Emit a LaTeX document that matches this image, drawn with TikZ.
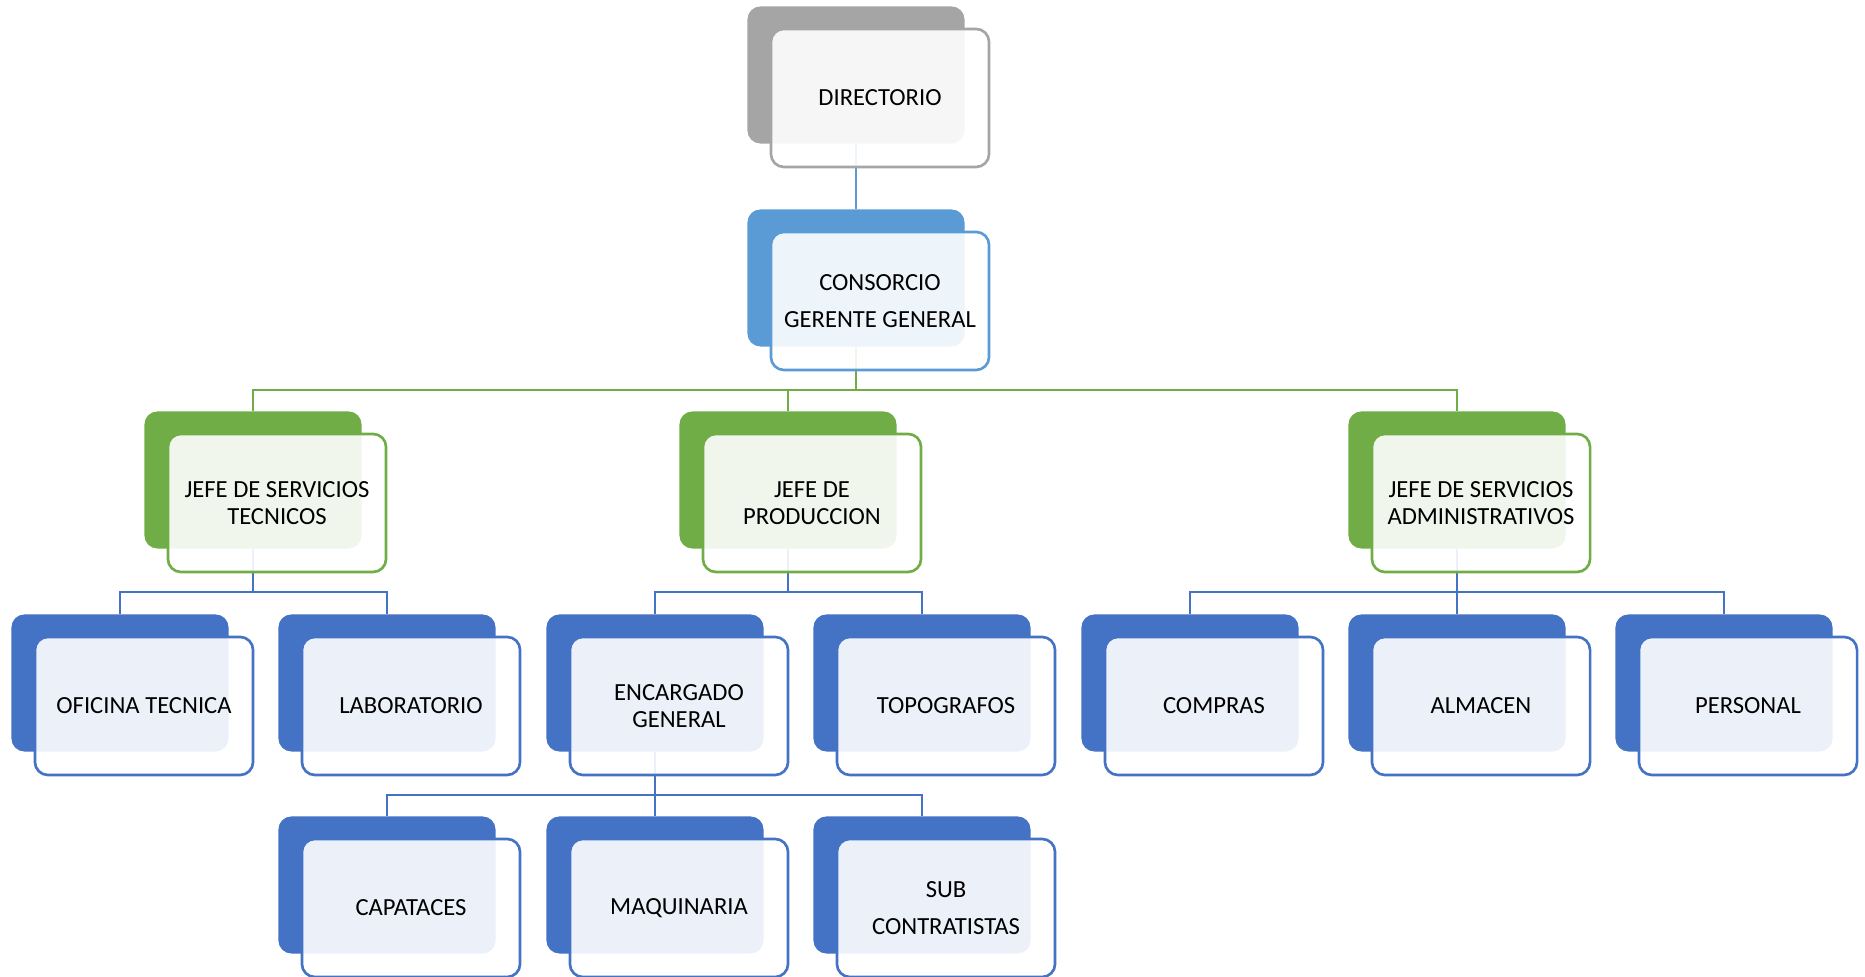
\documentclass[tikz,border=0pt]{standalone}
\usepackage{fontspec}
\setmainfont{Carlito}
\usepackage{tikz}
\definecolor{gris}{HTML}{A5A5A5}
\definecolor{celeste}{HTML}{5B9BD5}
\definecolor{verde}{HTML}{70AD47}
\definecolor{azul}{HTML}{4472C4}

\begin{document}
\begin{tikzpicture}[x=0.01cm,y=-0.01cm,font=\fontsize{7}{7.7}\selectfont,
  caja/.style={rounded corners=3.7pt,minimum width=2.17cm,minimum height=1.37cm,inner sep=0pt},
  frente/.style={rounded corners=3.7pt,minimum width=2.18cm,minimum height=1.38cm,inner sep=0pt,line width=0.75pt,fill=white,fill opacity=0.9,text opacity=1,align=center},
  linea/.style={line width=0.6pt}]
\useasboundingbox (0,0) rectangle (1865,977);
% fondo
\node[caja,fill=gris] (dir) at (856,75) {};
\node[caja,fill=celeste] (ger) at (856,278) {};
\node[caja,fill=verde] (jst) at (253,480) {};
\node[caja,fill=verde] (jpr) at (788,480) {};
\node[caja,fill=verde] (jsa) at (1457,480) {};
\node[caja,fill=azul] (ofi) at (120,683) {};
\node[caja,fill=azul] (lab) at (387,683) {};
\node[caja,fill=azul] (enc) at (655,683) {};
\node[caja,fill=azul] (top) at (922,683) {};
\node[caja,fill=azul] (com) at (1190,683) {};
\node[caja,fill=azul] (alm) at (1457,683) {};
\node[caja,fill=azul] (per) at (1724,683) {};
\node[caja,fill=azul] (cap) at (387,885) {};
\node[caja,fill=azul] (maq) at (655,885) {};
\node[caja,fill=azul] (sub) at (922,885) {};
% lineas
\draw[linea,celeste] (dir.south) -- (ger.north);
\draw[linea,verde] (ger.south) -- ++(0,43) -| (jst.north);
\draw[linea,verde] (ger.south) -- ++(0,43) -| (jpr.north);
\draw[linea,verde] (ger.south) -- ++(0,43) -| (jsa.north);
\draw[linea,azul] (jst.south) -- ++(0,43) -| (ofi.north);
\draw[linea,azul] (jst.south) -- ++(0,43) -| (lab.north);
\draw[linea,azul] (jpr.south) -- ++(0,43) -| (enc.north);
\draw[linea,azul] (jpr.south) -- ++(0,43) -| (top.north);
\draw[linea,azul] (jsa.south) -- ++(0,43) -| (com.north);
\draw[linea,azul] (jsa.south) -- ++(0,43) -| (alm.north);
\draw[linea,azul] (jsa.south) -- ++(0,43) -| (per.north);
\draw[linea,azul] (enc.south) -- ++(0,43) -| (cap.north);
\draw[linea,azul] (enc.south) -- ++(0,43) -| (maq.north);
\draw[linea,azul] (enc.south) -- ++(0,43) -| (sub.north);
% frente
\node[frente,draw=gris] (dirF) at (880,98) {DIRECTORIO};
\node[frente,draw=celeste] (gerF) at (880,301) {CONSORCIO\\[2.8pt]GERENTE GENERAL};
\node[frente,draw=verde] (jstF) at (277,503) {JEFE DE SERVICIOS\\TECNICOS};
\node[frente,draw=verde] (jprF) at (812,503) {JEFE DE\\PRODUCCION};
\node[frente,draw=verde] (jsaF) at (1481,503) {JEFE DE SERVICIOS\\ADMINISTRATIVOS};
\node[frente,draw=azul] (ofiF) at (144,706) {OFICINA TECNICA};
\node[frente,draw=azul] (labF) at (411,706) {LABORATORIO};
\node[frente,draw=azul] (encF) at (679,706) {ENCARGADO\\GENERAL};
\node[frente,draw=azul] (topF) at (946,706) {TOPOGRAFOS};
\node[frente,draw=azul] (comF) at (1214,706) {COMPRAS};
\node[frente,draw=azul] (almF) at (1481,706) {ALMACEN};
\node[frente,draw=azul] (perF) at (1748,706) {PERSONAL};
\node[frente,draw=azul] (capF) at (411,908) {CAPATACES};
\node[frente,draw=azul] (maqF) at (679,908) {MAQUINARIA};
\node[frente,draw=azul] (subF) at (946,908) {SUB\\[2.8pt]CONTRATISTAS};
\end{tikzpicture}
\end{document}
